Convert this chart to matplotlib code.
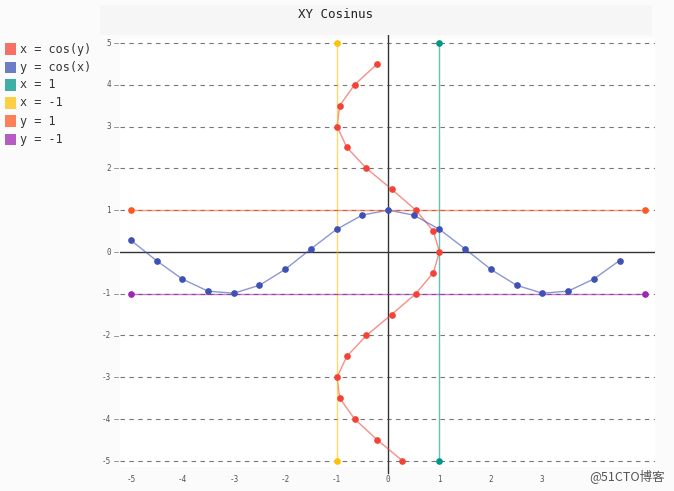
import matplotlib.pyplot as plt
from matplotlib.patches import Rectangle

# values
y_steps = [-5, -4.5, -4, -3.5, -3, -2.5, -2, -1.5, -1, -0.5,
           0, 0.5, 1, 1.5, 2, 2.5, 3, 3.5, 4, 4.5]
cos_vals = [0.28, -0.21, -0.65, -0.94, -0.99, -0.80, -0.42, 0.07, 0.54, 0.88,
            1.0, 0.88, 0.54, 0.07, -0.42, -0.80, -0.99, -0.94, -0.65, -0.21]

line_x1 = ([1, 1], [-5, 5])
line_xm1 = ([-1, -1], [-5, 5])
line_y1 = ([-5, 5], [1, 1])
line_ym1 = ([-5, 5], [-1, -1])

labels = ['x = cos(y)', 'y = cos(x)', 'x = 1', 'x = -1', 'y = 1', 'y = -1']
colors = ['#F44336', '#3F51B5', '#009688', '#FFC107', '#FF5722', '#9C27B0']
x_ticks = [-5, -4, -3, -2, -1, 0, 1, 2, 3]
y_ticks = [-5, -4, -3, -2, -1, 0, 1, 2, 3, 4, 5]

W, H = 674, 491
fig = plt.figure(figsize=(W / 100, H / 100), dpi=100, facecolor='#fbfbfb')
mono = 'DejaVu Sans Mono'

# axes placed in pixel coords
left, right, top, bottom = 120, 655, 38, 467
ax = fig.add_axes([left / W, 1 - bottom / H, (right - left) / W, (bottom - top) / H])
ax.set_facecolor('white')
ax.set_xlim(-5.21, 5.19)
ax.set_ylim(-5.15, 5.12)
for s in ax.spines.values():
    s.set_visible(False)
ax.set_xticks([])
ax.set_yticks([])

# guides
for t in y_ticks:
    if t == 0:
        ax.axhline(0, color='#333333', lw=1, zorder=1)
    else:
        ax.axhline(t, color='#777777', lw=0.8, ls=(0, (4, 4)), zorder=1)
ax.plot([0, 0], [-5.3, 5.3], color='#333333', lw=1, zorder=1, clip_on=False)

series = [
    (cos_vals, y_steps),
    (y_steps, cos_vals),
    line_x1,
    line_xm1,
    line_y1,
    line_ym1,
]
for (xs, ys), c in zip(series, colors):
    ax.plot(xs, ys, color=c, lw=1, alpha=0.6, zorder=2)
    ax.plot(xs, ys, 'o', color=c, ms=3.8, zorder=3, mec=c)

# tick labels
for t in y_ticks:
    yp = 1 - (252 - 41.8 * t) / H
    fig.text(111 / W, yp, str(t), ha='right', va='center',
             fontsize=5.5, color='#555555', family=mono)
    fig.lines.append(plt.Line2D([114 / W, 118 / W], [yp, yp], transform=fig.transFigure,
                                color='#888888', lw=0.6))
for t in x_ticks:
    fig.text((388 + 51.4 * t) / W, 1 - 479 / H, str(t), ha='center', va='center',
             fontsize=5.5, color='#555555', family=mono)

# title
fig.patches.append(Rectangle((100 / W, 1 - 35 / H), 552 / W, 30 / H,
                             transform=fig.transFigure, facecolor='#f6f6f6',
                             edgecolor='none', zorder=0))
fig.text(335 / W, 1 - 15 / H, 'XY Cosinus', ha='center', va='center',
         fontsize=9, color='#222222', family=mono)

# legend
for i, (lab, c) in enumerate(zip(labels, colors)):
    yc = 49 + 18 * i
    fig.patches.append(Rectangle((5 / W, 1 - (yc + 5.5) / H), 11 / W, 11 / H,
                                 transform=fig.transFigure, facecolor=c,
                                 alpha=0.75, edgecolor='none'))
    fig.text(20 / W, 1 - yc / H, lab, ha='left', va='center',
             fontsize=8.5, color='#333333', family=mono)

# watermark
fig.text(665 / W, 1 - 476 / H, '@51CTO博客', ha='right', va='center',
         fontsize=9, color='#555555', family=['Noto Sans CJK SC', 'DejaVu Sans'])

fig.savefig('out.png', dpi=100, facecolor=fig.get_facecolor())
